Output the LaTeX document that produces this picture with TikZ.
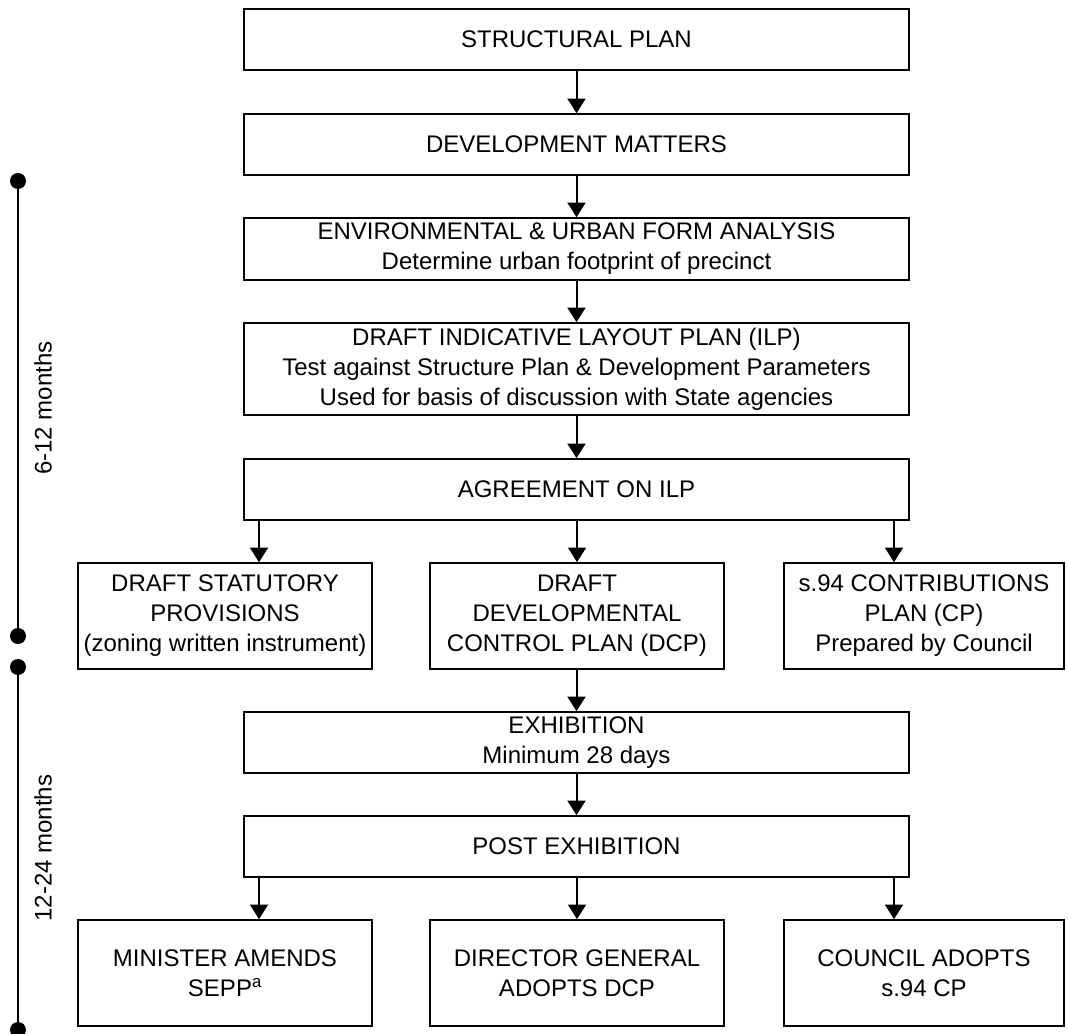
\documentclass[tikz,border=0pt]{standalone}
\usepackage{fontspec}
\setmainfont{Liberation Sans}
\usetikzlibrary{arrows.meta}
\begin{document}
\begin{tikzpicture}[x=0.75pt,y=-0.75pt,
  box/.style={draw=black,line width=1.2pt,rectangle,inner sep=0pt,align=center,
    font=\fontsize{18}{22.5}\selectfont},
  wide/.style={box,minimum width=498.75pt},
  third/.style={box,minimum width=220.5pt,minimum height=79.5pt},
  arr/.style={line width=1.5pt,-{Triangle[length=11pt,width=13.5pt]}},
  tl/.style={line width=1.6pt},
  dotc/.style={circle,fill=black,inner sep=0pt,minimum size=12pt},
  lbl/.style={rotate=90,font=\fontsize{18}{20}\selectfont}]
\useasboundingbox (0,0) rectangle (1068,1034);
\node[wide,minimum height=45.75pt] (sp) at (576.5,39.5) {STRUCTURAL PLAN};
\node[wide,minimum height=45.75pt] (dm) at (576.5,144.5) {DEVELOPMENT MATTERS};
\node[wide,minimum height=46.5pt] (env) at (576.5,249) {ENVIRONMENTAL \& URBAN FORM ANALYSIS\\Determine urban footprint of precinct};
\node[wide,minimum height=69pt] (ilp) at (576.5,369) {DRAFT INDICATIVE LAYOUT PLAN (ILP)\\Test against Structure Plan \& Development Parameters\\Used for basis of discussion with State agencies};
\node[wide,minimum height=45.75pt] (agr) at (576.5,489.5) {AGREEMENT ON ILP};
\node[third] (dsp) at (225,616) {DRAFT STATUTORY\\PROVISIONS\\(zoning written instrument)};
\node[third] (dcp) at (577,616) {DRAFT\\DEVELOPMENTAL\\CONTROL PLAN (DCP)};
\node[third,minimum width=210pt] (cp) at (924,616) {s.94 CONTRIBUTIONS\\PLAN (CP)\\Prepared by Council};
\node[wide,minimum height=45.75pt] (exh) at (576.5,742.5) {EXHIBITION\\Minimum 28 days};
\node[wide,minimum height=45.75pt] (post) at (576.5,846.5) {POST EXHIBITION};
\node[third] (min) at (225,973) {MINISTER AMENDS\\SEPP\textsuperscript{a}};
\node[third] (dg) at (577,973) {DIRECTOR GENERAL\\ADOPTS DCP};
\node[third,minimum width=210pt] (ca) at (924,973) {COUNCIL ADOPTS\\s.94 CP};
\coordinate (xl) at (259,0);
\coordinate (xr) at (894,0);
\draw[arr] (sp) -- (dm);
\draw[arr] (dm) -- (env);
\draw[arr] (env) -- (ilp);
\draw[arr] (ilp) -- (agr);
\draw[arr] (agr.south -| xl) -- (dsp.north -| xl);
\draw[arr] (agr.south -| dcp.north) -- (dcp.north);
\draw[arr] (agr.south -| xr) -- (cp.north -| xr);
\draw[arr] (dcp.south -| exh.north) -- (exh.north);
\draw[arr] (exh) -- (post);
\draw[arr] (post.south -| xl) -- (min.north -| xl);
\draw[arr] (post.south -| dg.north) -- (dg.north);
\draw[arr] (post.south -| xr) -- (ca.north -| xr);
% timeline
\coordinate (t1) at (18,181);
\coordinate (t2) at (18,636);
\coordinate (t3) at (18,667);
\coordinate (t4) at (18,1030);
\draw[tl] (t1) -- (t2);
\draw[tl] (t3) -- (t4);
\node[dotc] (d1) at (t1) {};
\node[dotc] (d2) at (t2) {};
\node[dotc] (d3) at (t3) {};
\node[dotc] (d4) at (t4) {};
\node[lbl] (l1) at (43,408) {6-12 months};
\node[lbl] (l2) at (43,848) {12-24 months};
\end{tikzpicture}
\end{document}
